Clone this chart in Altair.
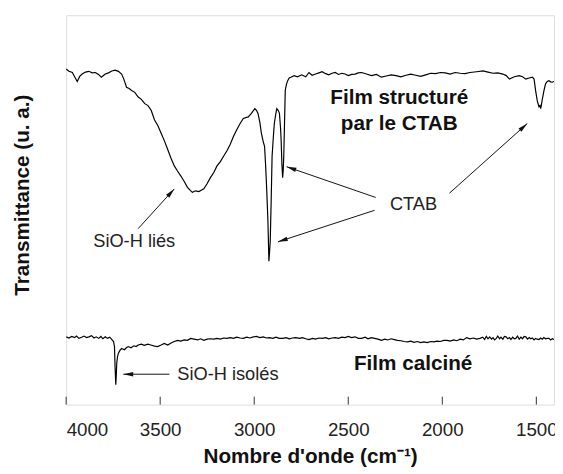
import math
import altair as alt
import pandas as pd

# ---- data ----
top_wn = [4000, 3985, 3967, 3955, 3941, 3928, 3915, 3897, 3879, 3862, 3844, 3828, 3813, 3800, 3792,
          3775, 3757, 3740, 3722, 3705, 3692, 3679, 3665, 3652, 3635, 3617, 3600, 3582, 3565, 3548,
          3530, 3512, 3495, 3478, 3460, 3442, 3425, 3408, 3390, 3372, 3355, 3340, 3329, 3312, 3294,
          3280, 3268, 3250, 3233, 3215, 3198, 3180, 3163, 3145, 3128, 3110, 3093, 3075, 3058, 3045,
          3032, 3015, 2997, 2988, 2980, 2970, 2962, 2952, 2945, 2940, 2936, 2931, 2927, 2922, 2918,
          2915, 2910, 2905, 2898, 2893, 2886, 2880, 2872, 2866, 2860, 2857, 2853, 2849, 2846, 2843,
          2839, 2835, 2829, 2822, 2814, 2805, 2788, 2770, 2748, 2726, 2709, 2692, 2674, 2656, 2639,
          2620, 2604, 2586, 2569, 2552, 2534, 2517, 2500, 2482, 2464, 2447, 2429, 2403, 2377, 2350,
          2324, 2298, 2272, 2246, 2220, 2193, 2167, 2141, 2115, 2088, 2062, 2036, 2010, 1984, 1958,
          1932, 1905, 1879, 1853, 1818, 1783, 1757, 1731, 1705, 1678, 1660, 1643, 1617, 1591, 1573,
          1556, 1538, 1521, 1512, 1504, 1495, 1486, 1481, 1477, 1473, 1469, 1460, 1451, 1442, 1433,
          1424, 1416, 1406]
top_t = [86.2, 85.6, 85.3, 84.2, 83.0, 84.3, 84.9, 85.4, 85.6, 85.2, 85.3, 84.8, 84.1, 84.6, 84.9,
         85.2, 85.7, 85.9, 85.6, 84.9, 83.4, 81.5, 81.2, 80.7, 80.2, 79.0, 78.4, 77.3, 76.8, 75.6,
         73.1, 71.6, 69.7, 67.8, 65.5, 63.2, 61.3, 60.0, 58.7, 57.3, 55.8, 55.0, 54.5, 54.9, 54.7,
         55.1, 55.4, 56.8, 58.3, 59.6, 61.3, 62.4, 63.8, 65.2, 66.8, 68.9, 70.6, 72.2, 73.5, 73.7,
         73.9, 74.8, 76.0, 75.6, 74.8, 72.5, 69.7, 67.5, 66.3, 62.0, 57.9, 52.0, 46.9, 36.8, 39.5,
         41.8, 52.0, 63.8, 69.0, 72.2, 74.5, 76.0, 75.5, 74.8, 71.0, 68.0, 62.0, 58.3, 60.0, 63.8,
         72.0, 80.7, 82.2, 83.2, 83.9, 84.1, 84.5, 84.2, 84.7, 84.2, 85.3, 84.6, 84.9, 85.2, 85.5,
         85.0, 84.7, 85.1, 85.3, 84.8, 85.1, 84.9, 84.5, 84.8, 84.9, 85.2, 85.3, 84.9, 84.5, 84.8,
         84.1, 84.4, 84.7, 84.5, 84.2, 84.6, 84.9, 84.6, 84.3, 84.7, 85.1, 85.0, 85.3, 85.2, 84.9,
         85.3, 85.1, 85.0, 85.3, 85.5, 85.7, 85.4, 85.1, 85.2, 84.9, 84.5, 83.6, 84.2, 84.5, 84.2,
         83.6, 83.9, 84.1, 83.6, 80.7, 78.0, 76.5, 76.8, 76.0, 77.0, 78.2, 80.5, 82.4, 83.0, 83.2,
         82.9, 82.8, 83.0]

bot_wn = [4000, 3985, 3970, 3955, 3945, 3932, 3918, 3905, 3892, 3879, 3865, 3852, 3840, 3827, 3815,
          3805, 3792, 3780, 3768, 3757, 3748, 3743, 3740, 3736, 3733, 3731, 3727, 3722, 3714, 3705,
          3690, 3680, 3670, 3655, 3640, 3628, 3617, 3600, 3585, 3565, 3550, 3530, 3513, 3495, 3478,
          3460, 3440, 3425, 3408, 3390, 3372, 3355, 3338, 3320, 3300, 3285, 3268, 3250, 3233, 3215,
          3198, 3180, 3163, 3145, 3128, 3110, 3093, 3075, 3058, 3040, 3022, 3005, 2988, 2970, 2952,
          2935, 2919, 2900, 2885, 2867, 2849, 2830, 2814, 2797, 2779, 2760, 2744, 2726, 2709, 2690,
          2674, 2656, 2639, 2620, 2604, 2586, 2569, 2552, 2534, 2517, 2500, 2482, 2464, 2447, 2429,
          2410, 2395, 2377, 2360, 2342, 2324, 2305, 2290, 2272, 2255, 2238, 2220, 2203, 2185, 2168,
          2150, 2133, 2115, 2098, 2080, 2062, 2045, 2028, 2010, 1993, 1975, 1958, 1940, 1923, 1905,
          1888, 1871, 1853, 1835, 1818, 1800, 1785, 1775, 1766, 1757, 1748, 1738, 1730, 1722, 1713,
          1705, 1695, 1688, 1678, 1670, 1661, 1652, 1643, 1635, 1626, 1617, 1609, 1600, 1591, 1582,
          1573, 1565, 1556, 1547, 1538, 1530, 1521, 1512, 1504, 1495, 1486, 1477, 1468, 1460, 1451,
          1442, 1433, 1424, 1415, 1406]
bot_t = [17.4, 17.1, 17.5, 17.2, 17.6, 17.0, 17.3, 17.6, 17.2, 17.4, 17.7, 17.1, 17.4, 17.0, 17.5,
         16.9, 17.4, 17.0, 17.3, 16.7, 16.2, 14.9, 9.8, 5.1, 8.0, 10.6, 12.3, 13.2, 13.9, 14.4,
         14.1, 14.6, 14.9, 14.6, 15.1, 14.9, 15.3, 15.5, 15.2, 15.5, 15.3, 15.0, 14.9, 15.3, 15.7,
         15.3, 15.9, 16.2, 16.5, 16.3, 16.6, 16.5, 17.0, 16.8, 16.6, 16.9, 16.5, 16.8, 16.9, 16.8,
         17.0, 16.8, 17.1, 17.0, 17.2, 17.0, 17.3, 17.1, 17.0, 17.3, 17.1, 17.4, 17.5, 17.2, 17.4,
         17.1, 17.2, 17.0, 17.3, 17.0, 17.0, 17.2, 16.9, 17.1, 17.2, 17.0, 17.2, 16.9, 16.7, 17.0,
         16.8, 17.1, 17.0, 17.2, 16.9, 17.1, 17.2, 17.0, 17.3, 17.2, 17.5, 17.2, 17.4, 17.0, 17.0,
         17.3, 16.9, 17.2, 17.0, 16.8, 16.5, 16.8, 16.6, 16.9, 16.7, 16.5, 16.4, 16.2, 16.1, 16.3,
         16.0, 16.2, 15.9, 16.1, 15.9, 16.2, 16.1, 16.3, 16.2, 16.5, 16.5, 16.3, 16.6, 16.4, 16.8,
         16.6, 17.2, 16.9, 17.1, 16.8, 17.0, 17.3, 16.7, 17.5, 16.9, 17.4, 16.8, 17.2, 16.6, 17.0,
         17.6, 16.9, 17.3, 16.8, 17.5, 17.4, 16.9, 17.2, 16.7, 17.3, 16.9, 17.0, 17.6, 16.8, 17.3,
         16.9, 17.5, 17.4, 16.8, 17.2, 16.9, 17.1, 16.6, 17.0, 16.8, 16.7, 17.1, 16.8, 17.2, 16.9,
         17.0, 17.0, 16.6, 16.9, 16.7]

x_ticks = [4000, 3500, 3000, 2500, 2000, 1500]

# annotation labels
bold_text = ["Film structuré", "par le CTAB", "Film calciné"]
bold_wn = [2229, 2229, 2155]
bold_t = [78.6, 72.0, 10.5]

reg_text = ["SiO-H liés", "CTAB", "SiO-H isolés"]
reg_wn = [3638, 2153, 3140]
reg_t = [42.1, 51.4, 7.8]

# arrows: tail -> head
arr_tail_wn = [3617, 2354, 2360, 1962, 3451]
arr_tail_t = [45.2, 53.2, 49.9, 54.3, 7.8]
arr_head_wn = [3425, 2828, 2874, 1548, 3696]
arr_head_t = [55.4, 61.1, 41.8, 72.2, 7.8]

# ---- chart ----
W, H = 495, 395
XMIN, XMAX = 1406, 4000
YMIN, YMAX = 0, 100
FONT = "Liberation Sans"

xs = alt.Scale(domain=[XMIN, XMAX], reverse=True, nice=False, zero=False)
ys = alt.Scale(domain=[YMIN, YMAX], nice=False, zero=False)

spec = pd.DataFrame(
    {"wn": top_wn + bot_wn, "t": top_t + bot_t,
     "s": ["top"] * len(top_wn) + ["bot"] * len(bot_wn),
     "i": list(range(len(top_wn))) + list(range(len(bot_wn)))}
)

x_axis = alt.Axis(values=x_ticks, format="d", grid=False, domain=False, ticks=False, tickSize=0,
                  labelFont=FONT, labelFontSize=19, labelColor="#222", labelPadding=16,
                  title="Nombre d'onde (cm⁻¹)", titleFont=FONT, titleFontSize=21,
                  titleFontWeight="bold", titleColor="#111", titleY=59, titleBaseline="alphabetic")
y_axis = alt.Axis(labels=False, ticks=False, domain=False, grid=False,
                  title="Transmittance (u. a.)", titleFont=FONT, titleFontSize=21,
                  titleFontWeight="bold", titleColor="#111", titleX=-44.5, titleY=182,
                  titleBaseline="middle", titleAlign="center")

lines = alt.Chart(spec).mark_line(color="black", strokeWidth=1.2, clip=True).encode(
    x=alt.X("wn:Q", scale=xs, axis=x_axis),
    y=alt.Y("t:Q", scale=ys, axis=y_axis),
    detail="s:N",
    order="i:Q",
)

tick_df = pd.DataFrame({"wn": x_ticks})
ticks = alt.Chart(tick_df).mark_rule(color="#333", strokeWidth=1).encode(
    x=alt.X("wn:Q", scale=xs), y=alt.value(H), y2=alt.value(H - 8)
)

bold_df = pd.DataFrame({"wn": bold_wn, "t": bold_t, "txt": bold_text})
bold = alt.Chart(bold_df).mark_text(font=FONT, fontSize=21, fontWeight="bold", color="#111",
                                    align="center", baseline="middle").encode(
    x=alt.X("wn:Q", scale=xs), y=alt.Y("t:Q", scale=ys), text="txt:N")

reg_df = pd.DataFrame({"wn": reg_wn, "t": reg_t, "txt": reg_text})
reg = alt.Chart(reg_df).mark_text(font=FONT, fontSize=18.5, color="#222",
                                  align="center", baseline="middle").encode(
    x=alt.X("wn:Q", scale=xs), y=alt.Y("t:Q", scale=ys), text="txt:N")

# arrow angles in screen space
sx = W / (XMAX - XMIN)
sy = H / (YMAX - YMIN)
angles = []
for tw, tt, hw, ht in zip(arr_tail_wn, arr_tail_t, arr_head_wn, arr_head_t):
    dx = -(hw - tw) * sx
    dy = -(ht - tt) * sy
    angles.append(math.degrees(math.atan2(dx, -dy)) % 360)

arr_df = pd.DataFrame({"x1": arr_tail_wn, "y1": arr_tail_t, "x2": arr_head_wn,
                       "y2": arr_head_t, "ang": angles})
shafts = alt.Chart(arr_df).mark_rule(color="#111", strokeWidth=1).encode(
    x=alt.X("x1:Q", scale=xs), y=alt.Y("y1:Q", scale=ys), x2="x2:Q", y2="y2:Q")
heads = alt.Chart(arr_df).mark_point(shape="M0,0L0.45,2L-0.45,2Z", filled=True, size=100,
                                     color="#111", opacity=1, strokeWidth=0).encode(
    x=alt.X("x2:Q", scale=xs), y=alt.Y("y2:Q", scale=ys),
    angle=alt.Angle("ang:Q", scale=None))

chart = alt.layer(lines, ticks, shafts, heads, bold, reg).properties(
    width=W, height=H,
    autosize=alt.AutoSizeParams(type="none"),
    padding={"left": 59, "top": 4, "right": 1, "bottom": 62},
).configure_view(stroke="#333", strokeWidth=1).configure(background="white")

chart.save("out.html", embed_options={"renderer": "svg", "actions": False})
